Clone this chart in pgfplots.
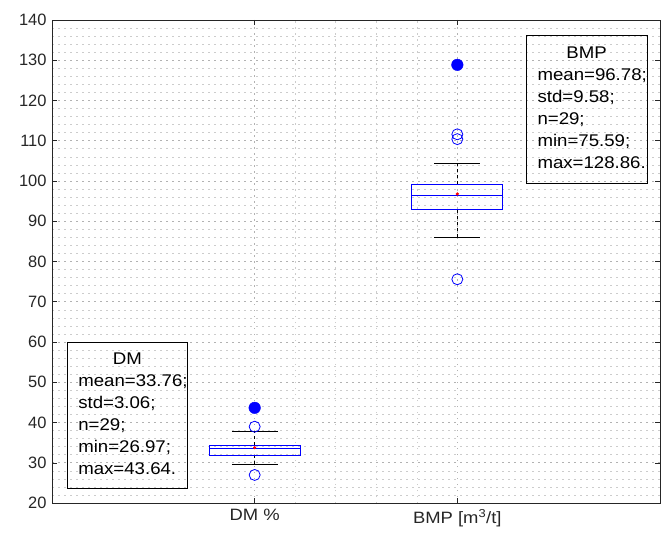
\documentclass[border=0pt]{standalone}
\usepackage{pgfplots}
\pgfplotsset{compat=1.18}
\usepackage{fontspec}
\setmainfont{Liberation Sans}
\newfontfamily\widefont[FakeStretch=1.12]{Liberation Sans}
\newfontfamily\boxfont[FakeStretch=1.1]{Liberation Sans}
\definecolor{axgray}{gray}{0.15}
\begin{document}
\begin{tikzpicture}
\begin{axis}[
  scale only axis, width=608bp, height=483bp,
  xmin=0, xmax=3, ymin=20, ymax=140,
  xtick={1,2}, xticklabels={DM \%, BMP [m\textsuperscript{3}/t]},
  ytick={20,30,...,140},
  minor x tick num=4, minor y tick num=4,
  grid=both,
  major grid style={gray!60, line width=0.6pt, dash pattern=on 1.5bp off 4.5bp},
  minor grid style={gray!40, line width=0.6pt, dash pattern=on 1.5bp off 4.5bp},
  tick align=inside, major tick length=5bp, minor tick length=0pt,
  tick style={axgray, line width=0.5pt},
  axis line style={axgray, line width=0.6pt},
  tick label style={font=\fontsize{16.5}{19}\selectfont, text=axgray},
  /pgf/number format/assume math mode=true,
  yticklabel style={xshift=-2bp},
  xticklabel style={yshift=-3bp, font=\widefont\fontsize{16.5}{19}\selectfont},
  clip=false,
]
% DM whiskers
\addplot[black, dashed, line width=0.7pt] coordinates {(1,34.4) (1,37.7)};
\addplot[black, dashed, line width=0.7pt] coordinates {(1,31.9) (1,29.6)};
\addplot[black, line width=0.8pt] coordinates {(0.887,37.7) (1.113,37.7)};
\addplot[black, line width=0.8pt] coordinates {(0.887,29.6) (1.113,29.6)};
% DM box
\addplot[blue, line width=1pt] coordinates {(0.775,31.9) (1.225,31.9) (1.225,34.4) (0.775,34.4) (0.775,31.9)};
\addplot[blue, line width=1pt] coordinates {(0.775,33.6) (1.225,33.6)};
% BMP whiskers
\addplot[black, dashed, line width=0.7pt] coordinates {(2,99.25) (2,104.3)};
\addplot[black, dashed, line width=0.7pt] coordinates {(2,92.8) (2,86.0)};
\addplot[black, line width=0.8pt] coordinates {(1.887,104.3) (2.113,104.3)};
\addplot[black, line width=0.8pt] coordinates {(1.887,86.0) (2.113,86.0)};
% BMP box
\addplot[blue, line width=1pt] coordinates {(1.775,92.8) (2.225,92.8) (2.225,99.25) (1.775,99.25) (1.775,92.8)};
\addplot[blue, line width=1pt] coordinates {(1.775,96.3) (2.225,96.3)};
% outliers
\addplot[only marks, mark=o, mark size=5.5bp, blue, line width=0.8pt] coordinates {(1,38.96) (1,26.97) (2,111.6) (2,110.4) (2,75.59)};
\addplot[only marks, mark=*, mark size=5.8bp, blue] coordinates {(1,43.64) (2,128.86)};
% means
\addplot[only marks, mark=*, mark size=1.4bp, red] coordinates {(1,33.76) (2,96.78)};
% stat boxes
\node[draw=black, line width=0.6pt, anchor=north west, inner xsep=0pt, inner ysep=0pt,
  minimum height=146bp, font=\boxfont\fontsize{17}{22}\selectfont]
  at (axis cs:0.074,60.0) {%
  \begin{tabular}{@{\hspace{11bp}}l@{\hspace{0bp}}}\multicolumn{1}{@{}c@{}}{DM}\\ mean=33.76;\\ std=3.06;\\ n=29;\\ min=26.97;\\ max=43.64.\end{tabular}};
\node[draw=black, line width=0.6pt, anchor=north west, inner xsep=0pt, inner ysep=0pt,
  minimum height=148bp, font=\boxfont\fontsize{17}{22}\selectfont]
  at (axis cs:2.34,136.3) {%
  \begin{tabular}{@{\hspace{11bp}}l@{\hspace{0bp}}}\multicolumn{1}{@{}c@{}}{BMP}\\ mean=96.78;\\ std=9.58;\\ n=29;\\ min=75.59;\\ max=128.86.\end{tabular}};
\end{axis}
\pgfresetboundingbox
\path ([xshift=-52bp,yshift=-32bp]current axis.south west) rectangle ([xshift=1bp,yshift=20bp]current axis.north east);
\end{tikzpicture}
\end{document}
